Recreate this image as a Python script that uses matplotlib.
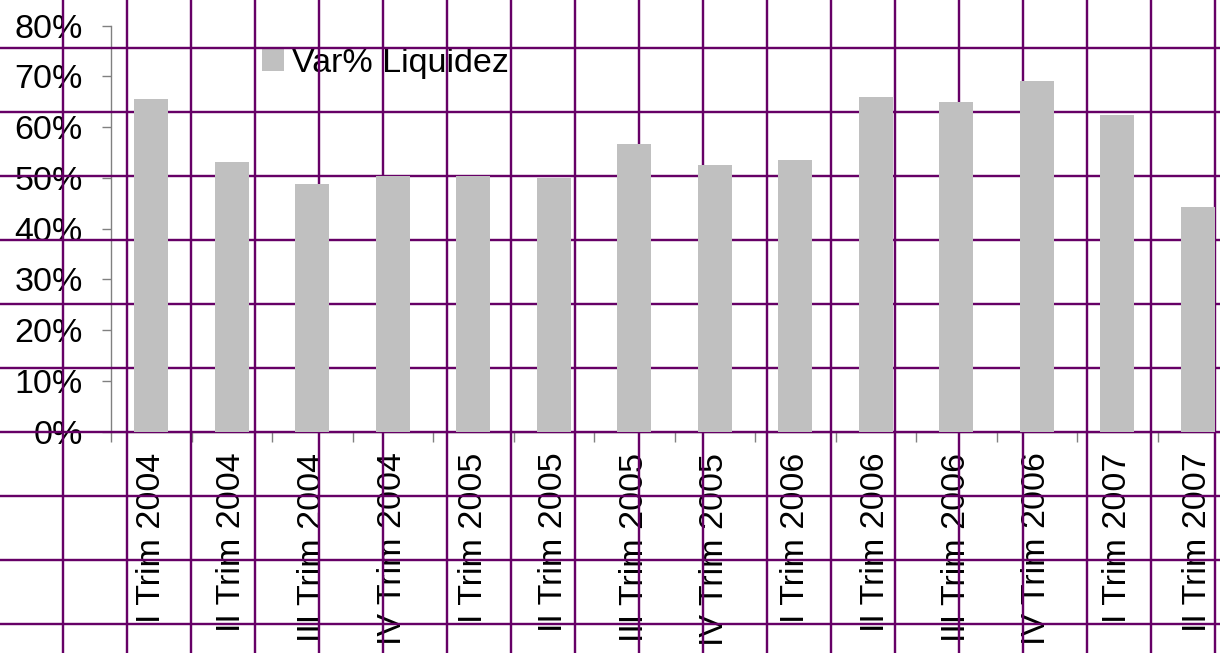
import matplotlib
matplotlib.use("Agg")
import matplotlib.pyplot as plt
from matplotlib.lines import Line2D
from matplotlib.ticker import FuncFormatter
import numpy as np

plt.rcParams['font.family'] = ['Liberation Sans', 'DejaVu Sans']

# ---- data ----
categories = ["I Trim 2004", "II Trim 2004", "III Trim 2004", "IV Trim 2004",
              "I Trim 2005", "II Trim 2005", "III Trim 2005", "IV Trim 2005",
              "I Trim 2006", "II Trim 2006", "III Trim 2006", "IV Trim 2006",
              "I Trim 2007", "II Trim 2007"]
var_liquidez = [65.6, 53.1, 48.8, 50.4, 50.4, 50.0, 56.7, 52.5,
                53.5, 65.9, 65.0, 69.1, 62.4, 44.3]
series_name = "Var% Liquidez"
y_ticks = [0, 10, 20, 30, 40, 50, 60, 70, 80]

# ---- layout ----
W, H = 1220, 653
fig = plt.figure(figsize=(W / 100, H / 100), dpi=100)
fig.patch.set_facecolor("white")
ax_left, ax_right, ax_bottom, ax_top = 111, 1238, 431.7, 25.7
ax = fig.add_axes([ax_left / W, (H - ax_bottom) / H,
                   (ax_right - ax_left) / W, (ax_bottom - ax_top) / H])
ax.set_facecolor("none")

FS = 24.5
GRAY = "#808080"
PURPLE = "#660066"

x = np.arange(len(categories))
bars = ax.bar(x, var_liquidez, width=0.42, color="#C0C0C0", zorder=5,
              label=series_name)

ax.set_xlim(-0.5, len(categories) - 0.5)
ax.set_ylim(y_ticks[0], y_ticks[-1])

ax.set_yticks(y_ticks)
ax.yaxis.set_major_formatter(FuncFormatter(lambda v, p: f"{v:.0f}%"))
ax.tick_params(axis="y", direction="out", length=6.8, width=1, color=GRAY,
               pad=13.5, labelsize=FS, labelcolor="black")

ax.set_xticks(x)
ax.set_xticklabels(categories, rotation=90)
ax.set_xticks(np.arange(-0.5, len(categories), 1.0), minor=True)
ax.tick_params(axis="x", which="major", length=0, pad=15, labelsize=FS,
               labelcolor="black")
ax.tick_params(axis="x", which="minor", direction="out", length=7.5, width=1,
               color=GRAY)

for s in ("top", "right"):
    ax.spines[s].set_visible(False)
for s in ("left", "bottom"):
    ax.spines[s].set_color(GRAY)
    ax.spines[s].set_linewidth(1)

leg = ax.legend([bars], [series_name], loc="upper left",
                bbox_to_anchor=(262 / W, 1 - 48 / H),
                bbox_transform=fig.transFigure, frameon=False,
                borderpad=0, borderaxespad=0, handlelength=0.65,
                handleheight=0.65, handletextpad=0.24, fontsize=FS)
leg.set_zorder(3)

# ---- sheet cell grid (drawn over text, under bars) ----
LW = 2.4 * 72 / 100
for k in range(19):
    px = 62.7 + 64 * k
    ln = Line2D([px / W, px / W], [0, 1], transform=fig.transFigure,
                color=PURPLE, lw=LW, zorder=4)
    ax.add_artist(ln)
    ln.set_clip_on(False)
for k in range(10):
    py = 47.7 + 64 * k
    ln = Line2D([0, 1], [1 - py / H, 1 - py / H], transform=fig.transFigure,
                color=PURPLE, lw=LW, zorder=4)
    ax.add_artist(ln)
    ln.set_clip_on(False)

fig.savefig("out.png", dpi=100)
